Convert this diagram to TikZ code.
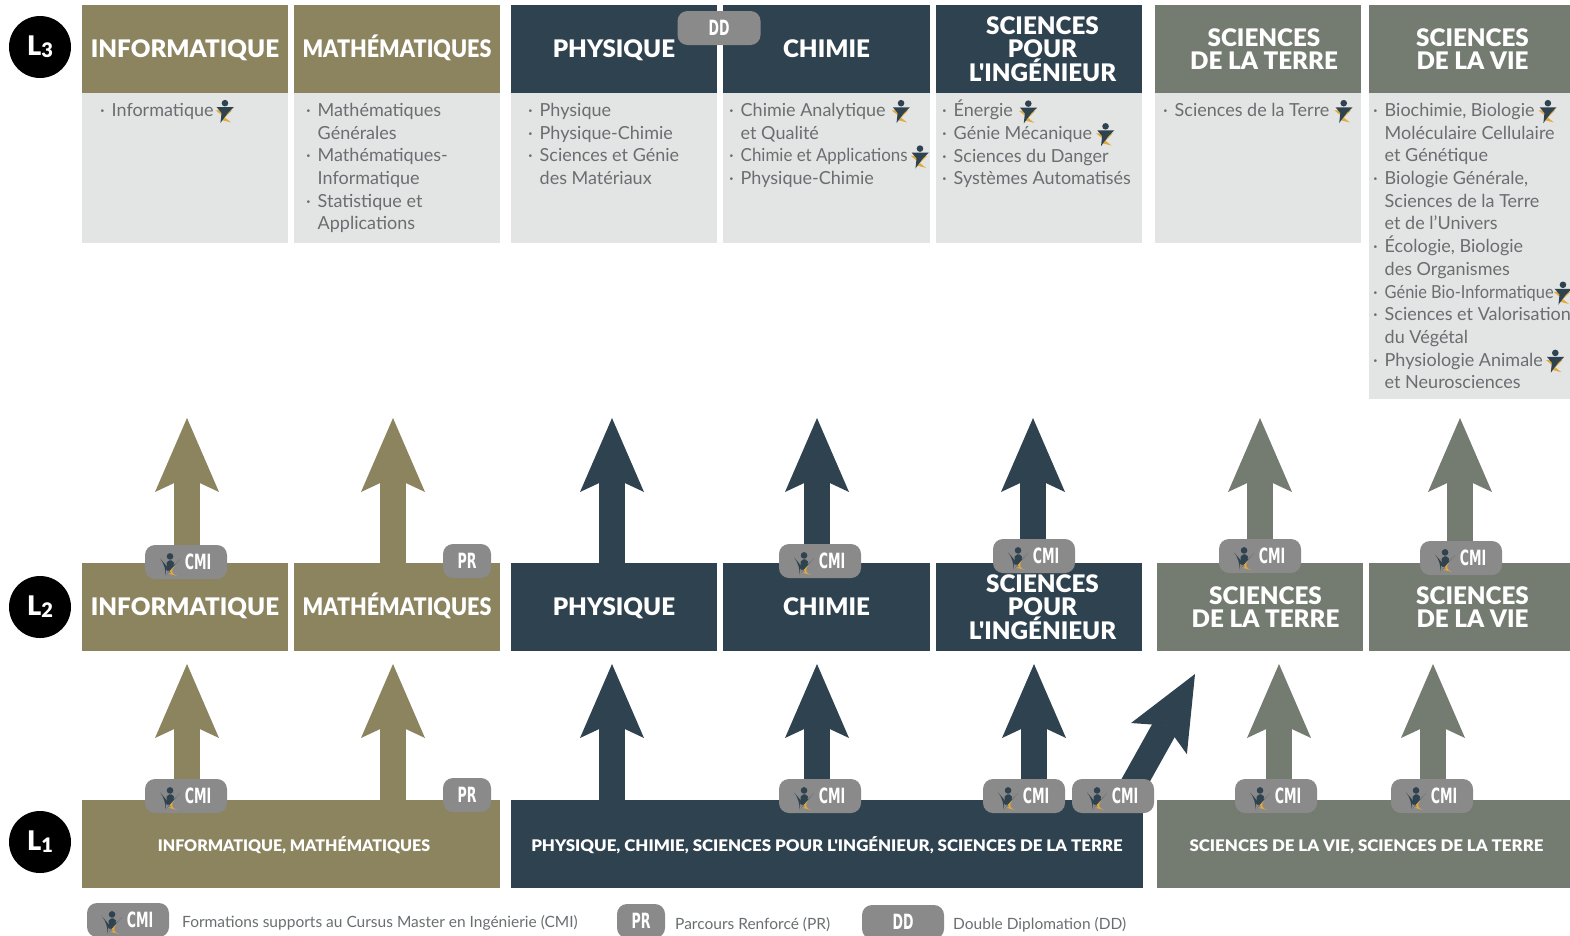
\documentclass[tikz,border=0pt]{standalone}
\usepackage{fontspec}
\usepackage{graphicx}
\setmainfont{Lato}
\newfontfamily\fonttete{Lato Black}
\newfontfamily\fontbadge[FakeStretch=0.6]{DejaVu Sans Bold}
\usetikzlibrary{arrows.meta}
\definecolor{olive}{HTML}{8B845F}
\definecolor{marine}{HTML}{2F424F}
\definecolor{sauge}{HTML}{747B70}
\definecolor{pale}{HTML}{E3E4E4}
\definecolor{badge}{HTML}{8A8A8A}
\definecolor{corps}{HTML}{6A6E70}
\definecolor{etoile}{HTML}{E2A93B}
\newcommand{\picto}{\smash{\tikz[x=1.1pt,y=1.1pt,baseline=-5pt]{
	\fill[etoile] (-8,1) -- (7,1) -- (-2,-8) -- (6,-10) -- cycle;
	\fill[marine] (0.5,7.5) circle (3);
	\fill[marine] (-7,3.8) -- (8.5,3.8) -- (3,-1.6) -- (-3.6,-10.5) -- (-2.6,-1.4) -- cycle;}}}
\newcommand{\puce}{\makebox[11.5pt][l]{·}}
\newcommand{\suite}{\hspace*{11.5pt}}
\newcommand{\serre}[2]{\scalebox{#1}[1]{#2}}
\tikzset{
	tete/.style={fill=#1,text=white,inner sep=0pt,minimum height=88pt,align=center,text depth=0pt,
		font=\fontsize{24.2}{22.5}\fonttete},
	tronc/.style={tete=#1,text height=14pt,font=\fontsize{16}{18}\fonttete},
	liste/.style={anchor=north west,inner sep=0pt,align=left,text=corps,
		font=\fontsize{18}{22.7}\selectfont},
	fleche/.style={line width=26pt,-{Stealth[length=74pt,width=64pt,inset=15pt,line width=0pt]}},
	cartouche/.style={fill=badge,text=white,rounded corners=10pt,inner sep=0pt,
		minimum height=34pt,font=\fontsize{21}{21}\fontbadge},
	legende/.style={anchor=west,inner sep=0pt,text=corps,font=\fontsize{15.5}{18}\selectfont},
	niveau/.style={circle,fill=black,text=white,inner sep=0pt,minimum size=62pt,
		font=\fontsize{27}{27}\fonttete}
}
\begin{document}
\begin{tikzpicture}[x=1pt,y=-1pt]
	\useasboundingbox (0,0) rectangle (1570,935);

	\node[niveau] (nivTrois) at (40,47) {L\raisebox{-2pt}{\fontsize{20}{20}\selectfont 3}};
	\node[niveau] (nivDeux) at (40,607) {L\raisebox{-2pt}{\fontsize{20}{20}\selectfont 2}};
	\node[niveau] (nivUn) at (40,842) {L\raisebox{-2pt}{\fontsize{20}{20}\selectfont 1}};

	% colonnes L3 et L2
	\foreach \nom/\cx/\cxb/\w/\coul/\txt in {
		info/185/185/206/olive/INFORMATIQUE,
		math/397/397/206/olive/{\raisebox{0pt}[17.4pt][0pt]{\serre{0.89}{MATHÉMATIQUES}}},
		phys/614/614/206/marine/PHYSIQUE,
		chim/826.5/826.5/207/marine/CHIMIE,
		spi/1039/1039/206/marine/{\hspace*{7pt}SCIENCES\\\hspace*{7pt}POUR\\\hspace*{7pt}L'INGÉNIEUR},
		terre/1258/1259.5/206/sauge/{\hspace*{12pt}SCIENCES\\\hspace*{12pt}DE LA TERRE},
		vie/1471/1471/204/sauge/{\hspace*{3pt}SCIENCES\\\hspace*{3pt}DE LA VIE}} {
		\node[tete=\coul,minimum width=\w pt] (\nom Trois) at (\cx,49) {\txt};
		\node[tete=\coul,minimum width=\w pt] (\nom Deux) at (\cxb,607) {\txt};
	};

	% fonds des listes
	\foreach \nom/\bas in {info/243,math/243,phys/243,chim/243,spi/243,terre/243,vie/399} {
		\fill[pale] (\nom Trois.south west) rectangle (\nom Trois.south east |- 0,\bas);
	};

	\node[liste] (listeInfo) at (100,103) {\puce Informatique\hspace{2pt}\picto};
	\node[liste] (listeMath) at (306,103) {\puce Mathématiques\\\suite Générales\\\puce Mathématiques-\\\suite Informatique\\\puce Statistique et\\\suite Applications};
	\node[liste] (listePhys) at (528,103) {\puce Physique\\\puce Physique-Chimie\\\puce Sciences et Génie\\\suite des Matériaux};
	\node[liste] (listeChim) at (729,103) {\puce Chimie Analytique\hspace{6pt}\picto\\\suite et Qualité\\\puce \serre{0.94}{Chimie et Applications}\hspace{3pt}\picto\\\puce Physique-Chimie};
	\node[liste] (listeSpi) at (942,100) {\puce Énergie\hspace{6pt}\picto\\\puce Génie Mécanique\hspace{4pt}\picto\\\puce Sciences du Danger\\\puce Systèmes Automatisés};
	\node[liste] (listeTerre) at (1163,103) {\puce Sciences de la Terre\hspace{5pt}\picto};
	\node[liste] (listeVie) at (1373,103) {\puce Biochimie, Biologie\hspace{4pt}\picto\\\suite Moléculaire Cellulaire\\\suite et Génétique\\\puce Biologie Générale,\\\suite Sciences de la Terre\\\suite et de l'Univers\\\puce Écologie, Biologie\\\suite des Organismes\\\puce \serre{0.91}{Génie Bio-Informatique}\picto\\\puce Sciences et Valorisation\\\suite du Végétal\\\puce Physiologie Animale\,\picto\\\suite et Neurosciences};

	% boites L1
	\node[tronc=olive,minimum width=418pt] (tronqueA) at (291,844) {\hspace*{6pt}INFORMATIQUE, MATHÉMATIQUES};
	\node[tronc=marine,minimum width=632pt] (tronqueB) at (827,844) {\serre{1.053}{PHYSIQUE, CHIMIE, SCIENCES POUR L'INGÉNIEUR, SCIENCES DE LA TERRE}};
	\node[tronc=sauge,minimum width=415pt] (tronqueC) at (1364,844) {\hspace*{5pt}\serre{1.055}{SCIENCES DE LA VIE, SCIENCES DE LA TERRE}};

	% fleches
	\foreach \nom/\x/\coul in {info/187/olive,math/393/olive,phys/612/marine,chim/817/marine,spi/1033/marine,terre/1260/sauge,vie/1460/sauge} {
		\coordinate (pointe\nom) at (\x,418);
		\draw[fleche,\coul] (pointe\nom |- \nom Deux.north) -- (pointe\nom);
	};
	\foreach \src/\nom/\x/\coul in {tronqueA/infoB/187/olive,tronqueA/mathB/393/olive,tronqueB/physB/612/marine,tronqueB/chimB/817/marine,tronqueB/spiB/1034/marine,tronqueC/terreB/1279/sauge,tronqueC/vieB/1433/sauge} {
		\coordinate (pointe\nom) at (\x,664);
		\draw[fleche,\coul] (pointe\nom |- \src.north) -- (pointe\nom);
	};
	\coordinate (pointeBiais) at (1195,674);
	\coordinate (departBiais) at (1123,803);
	\draw[fleche,marine] (departBiais) -- (pointeBiais);

	% cartouches
	\foreach \nom/\x/\y/\txt/\w in {
		dd/719/28/DD/83,
		prA/467/561/PR/48,prB/467/795/PR/48,prC/641/921/PR/48,ddB/903/922/DD/82} {
		\node[cartouche,minimum width=\w pt] (\nom) at (\x,\y) {\txt};
	};
	\foreach \nom/\x/\y in {
		a/186/562,b/820/561,c/1034/556,d/1260/556,e/1461/558,
		f/186/796,g/820/796,h/1024/796,i/1113/796,j/1276/796,k/1432/796,l/128/920} {
		\node[cartouche,minimum width=82pt] (cmi\nom) at (\x,\y) {\picto\hspace{6pt}CMI};
	};

	% legende
	\node[legende] (legA) at (182,923) {Formations supports au Cursus Master en Ingénierie (CMI)};
	\node[legende] (legB) at (675,925) {Parcours Renforcé (PR)};
	\node[legende] (legC) at (953,925) {Double Diplomation (DD)};
\end{tikzpicture}
\end{document}
